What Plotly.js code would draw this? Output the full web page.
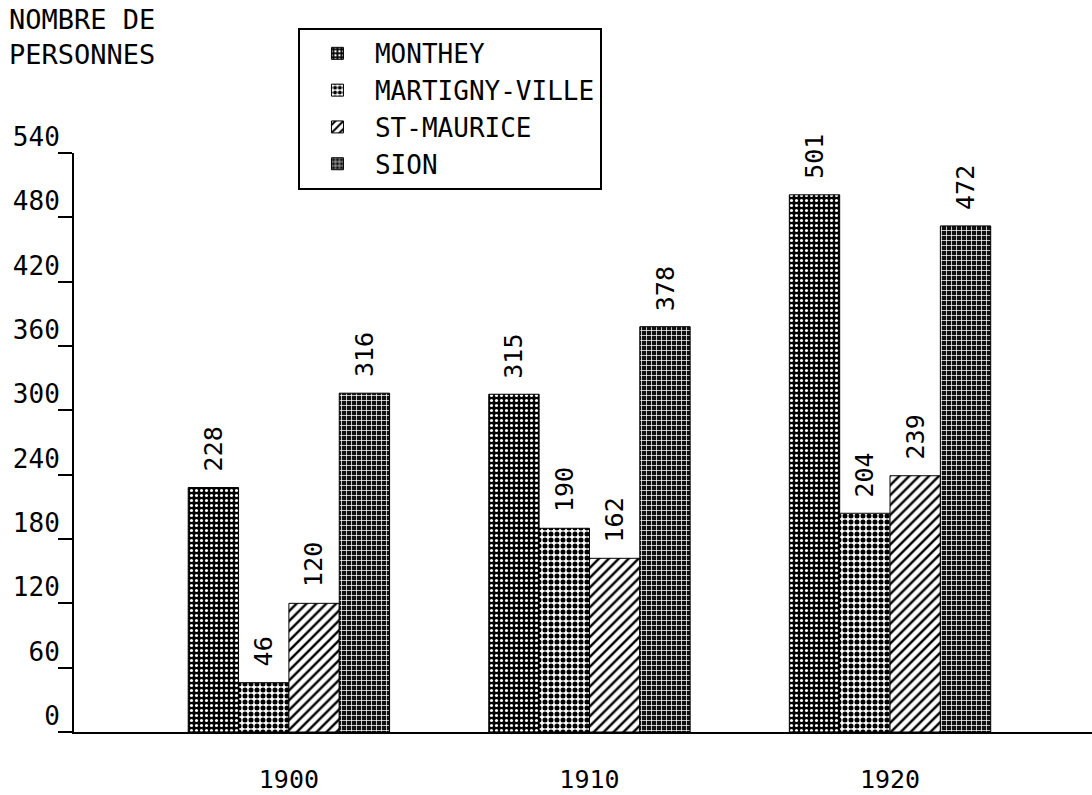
<!DOCTYPE html>
<html>
<head>
<meta charset="utf-8">
<script src="https://cdn.plot.ly/plotly-3.0.1.min.js"></script>
<style>html,body{margin:0;padding:0;background:#fff;}#chart{width:1092px;height:795px;}</style>
</head>
<body>
<div id="chart"></div>
<script>
var years = ['1900', '1910', '1920'];
var seriesNames = ['MONTHEY', 'MARTIGNY-VILLE', 'ST-MAURICE', 'SION'];
var monthey = [228, 315, 501];
var martigny = [46, 190, 204];
var stMaurice = [120, 162, 239];
var sion = [316, 378, 472];
var yTicks = [0, 60, 120, 180, 240, 300, 360, 420, 480, 540];
var yTitle = 'NOMBRE DE<br>PERSONNES';

var allValues = [monthey, martigny, stMaurice, sion];
var patterns = [
  {shape: '.', fgcolor: '#fff', bgcolor: '#000', size: 5, solidity: 0.3},
  {shape: '.', fgcolor: '#000', bgcolor: '#fff', size: 6, solidity: 0.55},
  {shape: '/', fgcolor: '#000', bgcolor: '#fff', size: 7, solidity: 0.35},
  {shape: '+', fgcolor: '#fff', bgcolor: '#111', size: 5, solidity: 0.28}
];
var FONT = 'DejaVu Sans Mono, Liberation Mono, monospace';
var bargap = 0.33;

var traces = allValues.map(function (vals, i) {
  return {
    type: 'bar',
    name: seriesNames[i],
    x: years,
    y: vals,
    marker: {color: '#fff', pattern: patterns[i], line: {color: '#000', width: 1}},
    hoverinfo: 'skip'
  };
});

var n = allValues.length;
var barW = (1 - bargap) / n;
var annotations = [];
allValues.forEach(function (vals, i) {
  vals.forEach(function (v, j) {
    annotations.push({
      x: j - (1 - bargap) / 2 + (i + 0.5) * barW,
      y: v,
      xref: 'x', yref: 'y',
      text: String(v),
      showarrow: false,
      textangle: -90,
      xanchor: 'center', yanchor: 'bottom',
      yshift: 14,
      font: {family: FONT, size: 25, color: '#000'}
    });
  });
});
annotations.push({
  text: yTitle,
  xref: 'paper', yref: 'paper',
  x: -0.066, y: 1.26,
  xanchor: 'left', yanchor: 'top',
  align: 'left',
  showarrow: false,
  font: {family: FONT, size: 27, color: '#000'}
});

var layout = {
  width: 1092, height: 795,
  margin: {l: 74, r: 0, t: 153, b: 63},
  paper_bgcolor: '#fff', plot_bgcolor: '#fff',
  barmode: 'group',
  bargap: bargap,
  bargroupgap: 0,
  showlegend: true,
  legend: {
    x: 0.22, y: 1.216, xanchor: 'left', yanchor: 'top',
    bordercolor: '#000', borderwidth: 2, bgcolor: '#fff',
    font: {family: FONT, size: 26, color: '#000'},
    tracegroupgap: 0,
    itemwidth: 65
  },
  xaxis: {
    type: 'category',
    range: [-0.715, 2.672],
    showline: true, linecolor: '#000', linewidth: 2,
    showgrid: false, zeroline: false,
    ticks: '',
    ticklabelstandoff: 24,
    tickfont: {family: FONT, size: 25, color: '#000'},
    automargin: false
  },
  yaxis: {
    range: [0, 540],
    tickvals: yTicks,
    showline: true, linecolor: '#000', linewidth: 2,
    showgrid: false, zeroline: false,
    ticks: 'outside', ticklen: 14, tickwidth: 2, tickcolor: '#000',
    ticklabelshift: -16,
    ticklabelstandoff: -7,
    tickfont: {family: FONT, size: 26, color: '#000'},
    automargin: false
  },
  annotations: annotations
};

Plotly.newPlot('chart', traces, layout, {staticPlot: true, displayModeBar: false});
</script>
</body>
</html>
